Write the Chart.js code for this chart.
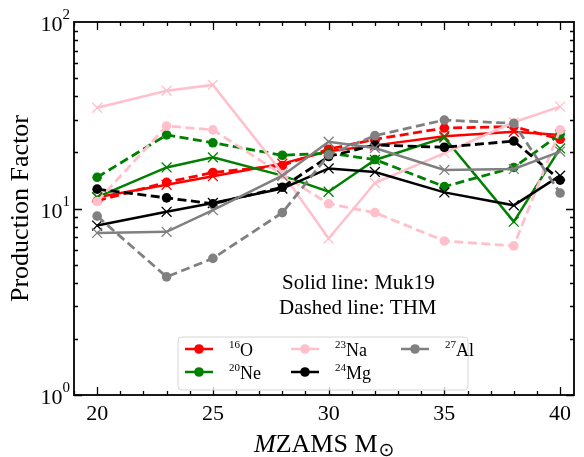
<!DOCTYPE html>
<html>
<head>
<meta charset="utf-8">
<script src="https://cdn.jsdelivr.net/npm/chart.js@4/dist/chart.umd.min.js"></script>
<style>
  html, body { margin: 0; padding: 0; background: #fff; }
  #wrap { width: 584px; height: 457px; position: relative; }
</style>
</head>
<body>
<div id="wrap"><canvas id="Chart"></canvas></div>
<script>
// initial stellar masses (M_sun)
const masses = [20, 23, 25, 28, 30, 32, 35, 38, 40];

// production factors, Muk19 (solid) and THM (dashed)
const o16Muk = [11.5, 13.4, 14.9, 17.4, 20.3, 21.8, 24.4, 25.8, 24.8];
const o16Thm = [11.0, 13.8, 15.6, 17.0, 20.8, 23.5, 27.0, 27.5, 23.5];
const ne20Muk = [11.5, 16.6, 18.8, 15.0, 12.3, 18.2, 24.0, 8.5, 21.0];
const ne20Thm = [14.7, 24.8, 22.5, 19.3, 19.8, 18.3, 13.1, 16.6, 25.0];
const na23Muk = [34.7, 42.8, 46.0, 15.5, 6.9, 13.7, 19.8, 29.0, 35.2];
const na23Thm = [10.9, 27.7, 26.4, 15.2, 10.6, 9.5, 6.7, 6.3, 26.4];
const mg24Muk = [8.1, 9.6, 10.7, 12.8, 16.4, 15.7, 12.2, 10.4, 15.0];
const mg24Thm = [12.7, 11.4, 10.6, 13.0, 19.0, 21.9, 21.3, 23.0, 14.2];
const al27Muk = [7.4, 7.5, 9.8, 15.0, 22.8, 21.1, 16.1, 16.3, 20.2];
const al27Thm = [9.1, 4.3, 5.4, 9.5, 19.4, 24.6, 29.8, 28.6, 12.1];

const xTicks = [20, 25, 30, 35, 40];
const yTicks = [1, 10, 100];

const isotopes = [
  { mass: '16', sym: 'O',  color: '#ff0000', muk: o16Muk,  thm: o16Thm },
  { mass: '20', sym: 'Ne', color: '#008000', muk: ne20Muk, thm: ne20Thm },
  { mass: '23', sym: 'Na', color: '#ffc0cb', muk: na23Muk, thm: na23Thm },
  { mass: '24', sym: 'Mg', color: '#000000', muk: mg24Muk, thm: mg24Thm },
  { mass: '27', sym: 'Al', color: '#808080', muk: al27Muk, thm: al27Thm }
];

const pts = arr => arr.map((v, i) => ({ x: masses[i], y: v }));

const datasets = [];
isotopes.forEach((iso, k) => {
  datasets.push({
    label: iso.mass + iso.sym + ' Muk19',
    data: pts(iso.muk),
    borderColor: iso.color,
    backgroundColor: iso.color,
    borderWidth: 2.5,
    pointStyle: 'crossRot',
    pointRadius: 7,
    pointBorderWidth: 1.3,
    pointHoverRadius: 7,
    tension: 0,
    order: 100 - 2 * k
  });
  datasets.push({
    label: iso.mass + iso.sym + ' THM',
    data: pts(iso.thm),
    borderColor: iso.color,
    backgroundColor: iso.color,
    borderWidth: 2.8,
    borderDash: [9, 4.5],
    pointStyle: 'circle',
    pointRadius: 4.8,
    pointBorderWidth: 0,
    pointHoverRadius: 4.8,
    tension: 0,
    order: 99 - 2 * k
  });
});

const serif = '"Liberation Serif", "DejaVu Serif", serif';

const frame = {
  id: 'frame',
  afterDraw(chart) {
    const ctx = chart.ctx;
    const a = chart.chartArea;
    const xs = chart.scales.x, ys = chart.scales.y;
    ctx.save();
    ctx.strokeStyle = '#000';
    ctx.fillStyle = '#000';

    // ticks (inward, all four sides)
    ctx.lineWidth = 1.3;
    for (let v = 19; v <= 40; v++) {
      if (v < xs.min || v > xs.max) continue;
      const px = Math.round(xs.getPixelForValue(v)) + 0.5;
      const len = (v % 5 === 0) ? 8 : 4;
      ctx.beginPath();
      ctx.moveTo(px, a.bottom); ctx.lineTo(px, a.bottom - len);
      ctx.moveTo(px, a.top); ctx.lineTo(px, a.top + len);
      ctx.stroke();
    }
    for (let d = 1; d <= 10; d *= 10) {
      for (let m = 1; m <= 9; m++) {
        const v = d * m;
        const py = Math.round(ys.getPixelForValue(v)) + 0.5;
        const len = (m === 1) ? 8 : 4;
        ctx.beginPath();
        ctx.moveTo(a.left, py); ctx.lineTo(a.left + len, py);
        ctx.moveTo(a.right, py); ctx.lineTo(a.right - len, py);
        ctx.stroke();
      }
    }

    // spines
    ctx.lineWidth = 1.8;
    ctx.strokeRect(a.left, a.top, a.right - a.left, a.bottom - a.top);

    // x tick labels
    ctx.font = '22px ' + serif;
    ctx.textAlign = 'center';
    ctx.textBaseline = 'top';
    xTicks.forEach(v => {
      ctx.fillText(String(v), xs.getPixelForValue(v), a.bottom + 8);
    });

    // y tick labels 10^n
    yTicks.forEach(v => {
      const py = ys.getPixelForValue(v);
      const exp = String(Math.round(Math.log10(v)));
      ctx.font = '15px ' + serif;
      const ws = ctx.measureText(exp).width;
      ctx.textAlign = 'right';
      ctx.textBaseline = 'alphabetic';
      ctx.fillText(exp, a.left - 4, py - 3);
      ctx.font = '22px ' + serif;
      ctx.fillText('10', a.left - 4 - ws, py + 9);
    });

    // axis titles
    ctx.save();
    ctx.translate(21, (a.top + a.bottom) / 2);
    ctx.rotate(-Math.PI / 2);
    ctx.font = '26px ' + serif;
    ctx.textAlign = 'center';
    ctx.textBaseline = 'middle';
    ctx.fillText('Production Factor', 0, 0);
    ctx.restore();

    ctx.textAlign = 'left';
    ctx.textBaseline = 'alphabetic';
    const partA = 'M', partB = 'ZAMS M', partC = '\u2299';
    ctx.font = 'italic 26px ' + serif;
    const wA = ctx.measureText(partA).width;
    ctx.font = '26px ' + serif;
    const wB = ctx.measureText(partB).width;
    ctx.font = '19px "DejaVu Sans", sans-serif';
    const wC = ctx.measureText(partC).width;
    let x0 = 254;
    const yb = 452;
    ctx.font = 'italic 26px ' + serif;
    ctx.fillText(partA, x0, yb);
    ctx.font = '26px ' + serif;
    ctx.fillText(partB, x0 + wA, yb);
    ctx.font = '19px "DejaVu Sans", sans-serif';
    ctx.fillText(partC, x0 + wA + wB + 1, yb + 4);

    // annotations
    ctx.font = '21px ' + serif;
    ctx.fillText('Solid line: Muk19', 282, 289);
    ctx.fillText('Dashed line: THM', 279, 314);

    // legend
    const lx = 178, ly = 337, lw = 290, lh = 53;
    ctx.beginPath();
    ctx.roundRect(lx, ly, lw, lh, 4);
    ctx.fillStyle = 'rgba(255,255,255,0.8)';
    ctx.fill();
    ctx.strokeStyle = '#d6d6d6';
    ctx.lineWidth = 1;
    ctx.stroke();
    const colX = [185, 291, 401];
    const rowY = [349, 372];
    isotopes.forEach((iso, i) => {
      const c = Math.floor(i / 2), r = i % 2;
      const x = colX[c], y = rowY[r];
      ctx.strokeStyle = iso.color;
      ctx.fillStyle = iso.color;
      ctx.lineWidth = 2.5;
      ctx.beginPath();
      ctx.moveTo(x, y); ctx.lineTo(x + 28, y);
      ctx.stroke();
      ctx.beginPath();
      ctx.arc(x + 14, y, 4.8, 0, Math.PI * 2);
      ctx.fill();
      ctx.fillStyle = '#000';
      ctx.font = '11px ' + serif;
      const tx = x + 44;
      ctx.fillText(iso.mass, tx, y - 1);
      const wm = ctx.measureText(iso.mass).width;
      ctx.font = '18px ' + serif;
      ctx.fillText(iso.sym, tx + wm, y + 7);
    });
    ctx.restore();
  }
};

new Chart(document.getElementById('Chart').getContext('2d'), {
  type: 'line',
  data: { datasets: datasets },
  options: {
    responsive: true,
    maintainAspectRatio: false,
    animation: false,
    layout: { padding: { top: 22, right: 10, left: 0, bottom: 0 } },
    plugins: { legend: { display: false }, tooltip: { enabled: false } },
    scales: {
      x: {
        type: 'linear', min: 19, max: 40.6,
        ticks: { display: false }, grid: { display: false }, border: { display: false },
        afterFit(s) { s.height = 62; }
      },
      y: {
        type: 'logarithmic', min: 1, max: 100,
        ticks: { display: false }, grid: { display: false }, border: { display: false },
        afterFit(s) { s.width = 74; }
      }
    }
  },
  plugins: [frame]
});
</script>
</body>
</html>
